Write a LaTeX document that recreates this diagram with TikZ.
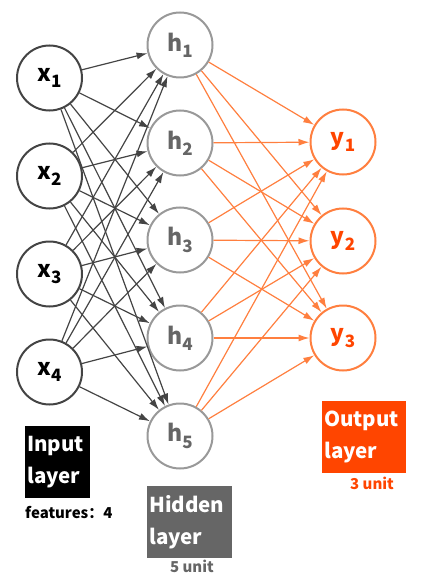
\documentclass[tikz,border=0pt]{standalone}
\usepackage{fontspec}
\setmainfont{Noto Sans CJK SC}
\usepackage{xcolor}
\usetikzlibrary{arrows.meta}
\definecolor{ingray}{HTML}{444444}
\definecolor{hidgray}{HTML}{999999}
\definecolor{hidtext}{HTML}{666666}
\definecolor{outline}{HTML}{FF7F3F}
\definecolor{outred}{HTML}{FF4500}
\newcommand{\nsub}[2]{#1\raisebox{-0.5ex}{\fontsize{17}{17}\selectfont #2}}

\begin{document}
\begin{tikzpicture}[x=1pt,y=-1pt,
  neuron/.style={circle,draw,fill=white,line width=2pt,minimum size=65pt,inner sep=0pt,font=\bfseries\fontsize{23}{23}\selectfont},
  ar/.style={-{Latex[length=11pt,width=7pt]},line width=1.2pt},
  layerbox/.style={anchor=north west,text=white,align=left,inner sep=2pt,minimum height=72pt,font=\bfseries\fontsize{20.5}{32}\selectfont},
  note/.style={font=\bfseries\fontsize{15}{15}\selectfont}
]
\useasboundingbox (0,0) rectangle (430,588);

% neurons
\foreach \i/\y in {1/78,2/176,3/274,4/372}
  \node[neuron,draw=ingray,text=black] (x\i) at (49.5,\y) {\nsub{x}{\i}};
\foreach \i/\y in {1/45,2/143,3/240,4/338,5/436}
  \node[neuron,draw=hidgray,text=hidtext] (h\i) at (180,\y) {\nsub{h}{\i}};
\foreach \i/\y in {1/142,2/241,3/338}
  \node[neuron,draw=outline,text=outred] (y\i) at (343,\y) {\nsub{y}{\i}};

% connections
\foreach \i in {1,...,4}
  \foreach \j in {1,...,5}
    \draw[ar,ingray] (x\i) -- (h\j);
\foreach \i in {1,...,5}
  \foreach \j in {1,...,3}
    \draw[ar,outline] (h\i) -- (y\j);

% layer labels
\node[layerbox,fill=black,minimum width=65pt,text width=61pt] (inbox) at (25,426) {Input\\layer};
\node[note,anchor=north west,inner sep=0pt,text=black] (infeat) at (25,506) {features：4};
\node[layerbox,fill=hidtext,minimum width=85pt,text width=81pt] (hidbox) at (147,486) {Hidden\\layer};
\node[note,text=hidtext] (hidunit) at (192,566) {5 unit};
\node[layerbox,fill=outred,minimum width=84pt,text width=80pt] (outbox) at (322,401) {Output\\layer};
\node[note,text=outred] (outunit) at (372,483) {3 unit};
\end{tikzpicture}
\end{document}
